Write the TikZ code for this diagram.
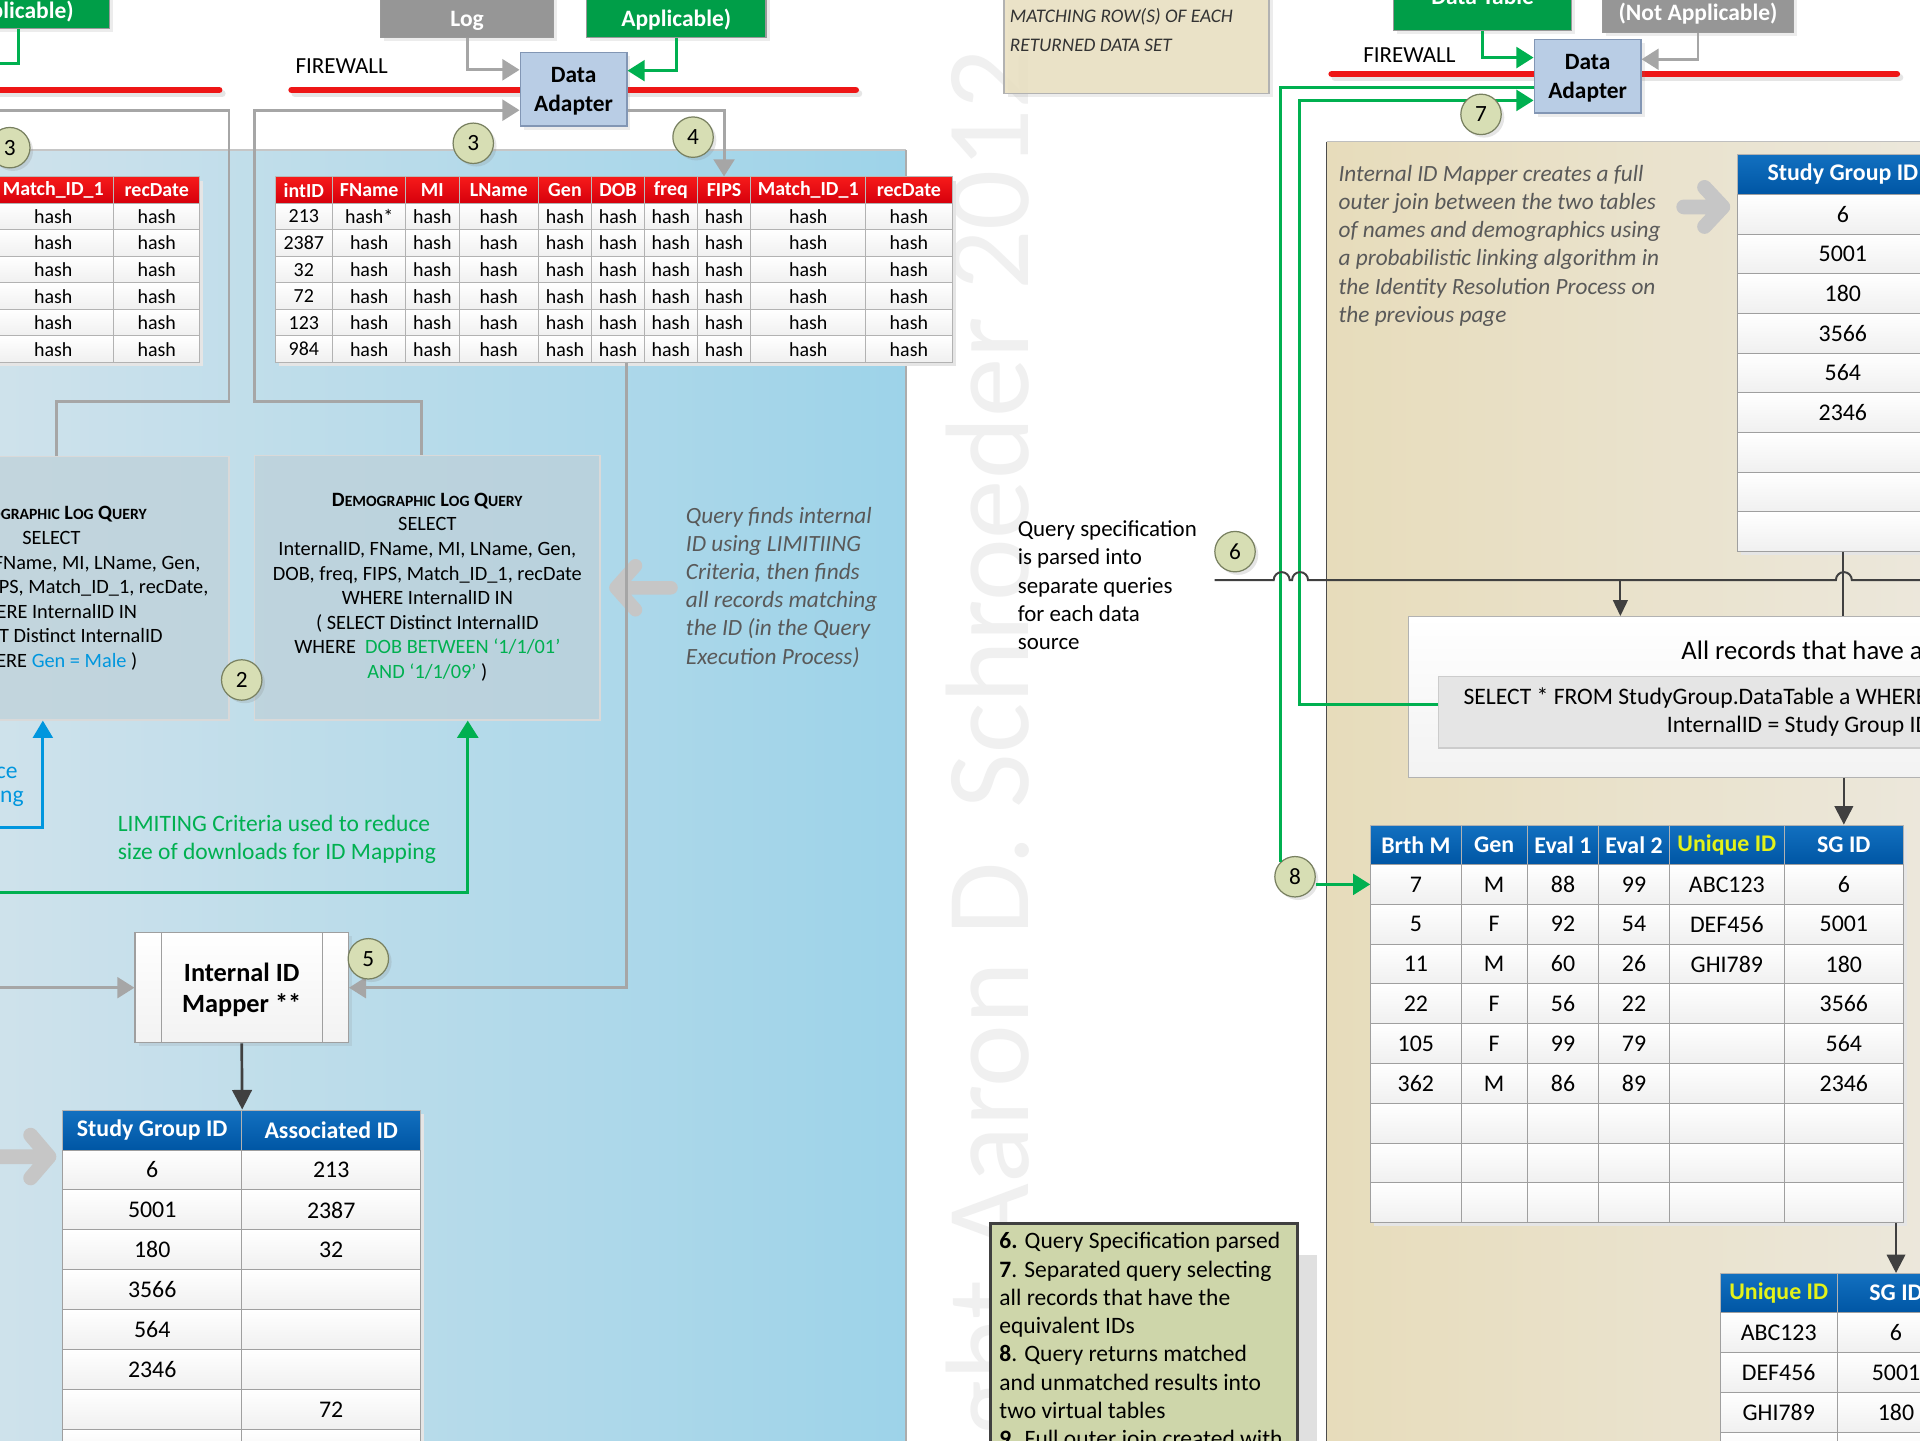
\documentclass[tikz,border=0pt]{standalone}
\usepackage{fontspec}
\setmainfont{Carlito}
\usetikzlibrary{arrows.meta,positioning,shadows}

\definecolor{fwred}{RGB}{238,22,22}
\definecolor{hdrredtop}{RGB}{246,26,26}
\definecolor{hdrredbot}{RGB}{214,0,12}
\definecolor{hdrbluetop}{RGB}{18,112,192}
\definecolor{hdrbluebot}{RGB}{0,86,164}
\definecolor{uidyellow}{RGB}{228,242,24}
\definecolor{srcgreen}{RGB}{0,158,72}
\definecolor{srcgray}{RGB}{150,150,150}
\definecolor{linegreen}{RGB}{0,176,80}
\definecolor{critblue}{RGB}{0,150,222}
\definecolor{linegray}{RGB}{166,166,166}
\definecolor{connline}{RGB}{64,64,64}
\definecolor{adapterblue}{RGB}{185,205,229}
\definecolor{adapteredge}{RGB}{130,150,180}
\definecolor{stepfill}{RGB}{215,222,180}
\definecolor{stepedge}{RGB}{120,128,96}
\definecolor{panelblueL}{RGB}{207,226,235}
\definecolor{panelblueR}{RGB}{157,211,233}
\definecolor{paneltanL}{RGB}{231,220,187}
\definecolor{paneltanR}{RGB}{236,232,221}
\definecolor{queryfill}{RGB}{190,208,216}
\definecolor{legendfill}{RGB}{206,214,170}
\definecolor{notetan}{RGB}{234,225,195}
\definecolor{notegray}{RGB}{89,89,89}

\newcommand\qtitle{\textbf{D{\fontsize{12.8}{20.1}\selectfont EMOGRAPHIC} L{\fontsize{12.8}{20.1}\selectfont OG} Q{\fontsize{12.8}{20.1}\selectfont UERY}}}

\tikzset{
  firewall/.style={fwred, line width=5.5pt, line cap=round},
  grayline/.style={linegray, line width=2.4pt},
  grayarrow/.style={grayline, -{Triangle[width=17pt,length=14pt]}},
  greenline/.style={linegreen, line width=2.4pt},
  greenarrow/.style={greenline, -{Triangle[width=17pt,length=14pt]}},
  bluearrow/.style={critblue, line width=2.4pt, -{Triangle[width=16pt,length=14pt]}},
  connector/.style={connline, line width=1.6pt},
  connarrow/.style={connector, -{Triangle[width=12pt,length=13pt]}},
  chevron/.style={gray!45, line width=12pt, line cap=round, line join=round},
  softshadow/.style={drop shadow={shadow xshift=3pt, shadow yshift=-3pt, opacity=0.15}},
  srcbox/.style={draw=black!40, line width=1pt, text=white, inner sep=0pt, text height=45pt, text depth=8.8pt, font=\fontsize{19.2}{23}\selectfont\bfseries, softshadow},
  adapter/.style={draw=adapteredge, fill=adapterblue, line width=1.2pt, align=center, inner sep=0pt, text depth=0pt, minimum width=87pt, minimum height=60pt, font=\fontsize{19.1}{23}\selectfont\bfseries, softshadow},
  stepnum/.style={circle, draw=stepedge, fill=stepfill, line width=1pt, minimum size=33pt, inner sep=0pt, font=\fontsize{19}{23}\selectfont, drop shadow={shadow xshift=2.5pt, shadow yshift=-2.5pt, opacity=0.2}},
  querybox/.style={draw=gray!30, line width=1pt, fill=queryfill, fill opacity=0.7, inner sep=0pt},
  mapperbox/.style={draw=gray!75, line width=1pt, top color=white, bottom color=gray!10, align=center, inner sep=0pt, text depth=0pt, minimum width=174.2pt, minimum height=89.8pt, font=\fontsize{21.5}{26}\selectfont\bfseries, softshadow},
  mapline/.style={gray!75, line width=1pt},
  redhead/.style={draw=gray!55, line width=0.8pt, top color=hdrredtop, bottom color=hdrredbot, text=white, inner sep=0pt, minimum height=21.5pt, font=\fontsize{16.3}{20}\selectfont\bfseries},
  redcell/.style={draw=gray!60, line width=0.8pt, top color=white, bottom color=gray!12, inner sep=0pt, minimum height=21.67pt, font=\fontsize{16.3}{20}\selectfont},
  bluehead/.style={draw=gray!60, line width=0.8pt, top color=hdrbluetop, bottom color=hdrbluebot, text=white, inner sep=0pt, minimum height=32.7pt, font=\fontsize{19.5}{23}\selectfont\bfseries},
  bluecell/.style={draw=gray!75, line width=0.8pt, top color=white, bottom color=gray!12, inner sep=0pt, minimum height=32.5pt, font=\fontsize{19.5}{23}\selectfont},
  allbox/.style={draw=gray!60, line width=1pt, top color=white, bottom color=gray!10, inner sep=0pt, minimum width=550pt, minimum height=131.5pt},
  sqlbox/.style={draw=gray!40, line width=1pt, fill=gray!20, inner sep=0pt, minimum width=525.4pt, minimum height=58.2pt},
  notebox/.style={draw=gray!60, line width=1pt, fill=notetan, fill opacity=0.9, inner sep=0pt, softshadow},
  legendbox/.style={draw=black!75, line width=2.4pt, fill=legendfill, inner sep=0pt},
  fwtxt/.style={inner sep=0pt, font=\fontsize{18.8}{22}\selectfont},
  plaintxt/.style={align=left, inner sep=0pt, font=\fontsize{18.7}{23}\selectfont},
  annot/.style={align=left, inner sep=0pt, text=notegray, font=\fontsize{19}{23}\selectfont\itshape},
  limtxt/.style={align=left, inner sep=0pt, text=linegreen, font=\fontsize{19.2}{23}\selectfont},
  crittxt/.style={inner sep=0pt, text=critblue, font=\fontsize{19.2}{23}\selectfont},
  querytxt/.style={align=center, inner sep=0pt, font=\fontsize{16.6}{20.1}\selectfont},
  matchtxt/.style={align=left, inner sep=0pt, text=black!80, font=\fontsize{15.7}{23.5}\selectfont\itshape},
  legendtxt/.style={align=left, inner sep=0pt, font=\fontsize{19.2}{23.1}\selectfont},
  alltxt/.style={inner sep=0pt, font=\fontsize{21.8}{26}\selectfont},
  sqltxt/.style={inner sep=0pt, font=\fontsize{19.3}{23}\selectfont},
  watermark/.style={inner sep=0pt, text=black!6, font=\fontsize{97}{100}\selectfont}
}

\begin{document}
\begin{tikzpicture}[x=1pt,y=-1pt]
\useasboundingbox (0,0) rectangle (1568,1176);
\clip (0,0) rectangle (1568,1176);
\fill[white] (0,0) rectangle (1568,1176);

\shade[left color=panelblueL, right color=panelblueR] (-10,122.5) rectangle (740,1190);
\draw[gray!45, line width=1pt] (-10,122.5) -- (740,122.5);
\draw[gray!65, line width=1.5pt] (740,122.5) -- (740,1190);
\shade[left color=paneltanL, right color=paneltanR] (1083.5,115.7) rectangle (1600,1190);
\draw[gray!50, line width=1pt] (1600,115.7) -- (1083.5,115.7);
\draw[black!70, line width=0.8pt] (1083.5,115.7) -- (1083.5,1190);

\node[watermark, rotate=90, anchor=base east] (wm) at (840,40) {Copyright Aaron D. Schroeder 2012};

\draw[firewall, black!10] (-10,76.5) -- (181.5,76.5) (240.8,76.5) -- (701.4,76.5) (1090.2,63.4) -- (1551.6,63.4);
\draw[firewall] (-10,73.5) -- (178.9,73.5);
\draw[firewall] (238.2,73.5) -- (698.8,73.5);
\draw[firewall] (1087.6,60.4) -- (1549,60.4);
\node[fwtxt] (fwl) at (279,54) {FIREWALL};
\node[fwtxt] (fwr) at (1151,44.9) {FIREWALL};

\node[srcbox, fill=srcgreen, minimum width=148pt, anchor=base, text depth=8.3pt] (gl) at (15.3,14.7) {Applicable)};
\node[srcbox, fill=srcgray, minimum width=141pt, anchor=base] (logbox) at (381.5,21.7) {Log};
\node[srcbox, fill=srcgreen, minimum width=146.6pt, anchor=base] (gm) at (552.3,21.7) {Applicable)};
\node[srcbox, fill=srcgreen, minimum width=145.5pt, anchor=base, text depth=21.7pt] (gr) at (1210.8,3.3) {Data Table};
\node[srcbox, fill=srcgray, minimum width=155.7pt, anchor=base, text depth=9.4pt] (na) at (1386.7,17) {(Not Applicable)};

\node[adapter] (da1) at (468.4,73) {Data\\Adapter};
\node[adapter] (da2) at (1296.5,62.4) {Data\\Adapter};

\coordinate (glout) at (-10,51.7);
\draw[greenline] (gl.south) |- (glout);
\draw[grayarrow] (logbox.south) |- ([yshift=16pt]da1.west);
\draw[greenarrow] (gm.south) |- ([yshift=15.3pt]da1.east);

\fill[black!10] (227.6,147.5) rectangle (780.5,299);
\fill[black!10] (-10,147.5) rectangle (166,299);
\foreach \xc/\w/\t [count=\cl] in {248.15/47.1/intID, 301.5/59.6/FName, 353.1/43.6/MI, 407.25/64.7/LName, 461.4/43.6/Gen, 504.7/43.0/DOB, 547.85/43.3/freq, 591.3/43.6/FIPS, 660.05/93.9/Match\_ID\_1, 742.25/70.5/recDate}
  \node[redhead, minimum width=\w pt] (mh-\cl) at (\xc,155.25) {\t};
\foreach \iv/\fnv [count=\rw] in {213/hash*, 2387/hash, 32/hash, 72/hash, 123/hash, 984/hash}{
  \pgfmathsetmacro\yc{166+(\rw-0.5)*21.67}
  \node[redcell, minimum width=47.1pt] (m-\rw-1) at (248.15,\yc) {\iv};
  \node[redcell, minimum width=59.6pt] (m-\rw-2) at (301.5,\yc) {\fnv};
  \foreach \xc/\w [count=\cl from 3] in {353.1/43.6, 407.25/64.7, 461.4/43.6, 504.7/43.0, 547.85/43.3, 591.3/43.6, 660.05/93.9, 742.25/70.5}
    \node[redcell, minimum width=\w pt] (m-\rw-\cl) at (\xc,\yc) {hash};
}
\node[redhead, minimum width=99pt] (lh-1) at (43.5,155.25) {Match\_ID\_1};
\node[redhead, minimum width=70pt] (lh-2) at (128,155.25) {recDate};
\foreach \rw in {1,...,6}{
  \pgfmathsetmacro\yc{166+(\rw-0.5)*21.67}
  \node[redcell, minimum width=99pt] (l-\rw-1) at (43.5,\yc) {hash};
  \node[redcell, minimum width=70pt] (l-\rw-2) at (128,\yc) {hash};
}
\draw[grayarrow] ([yshift=-17pt]da1.east) -| (mh-8.north);

\node[querybox, minimum width=197pt, minimum height=215pt] (qleft) at (88.5,480.5) {};
\node[querybox, minimum width=282pt, minimum height=216pt] (qmid) at (349,480) {};
\node[querytxt] (qlefttxt) at (42,480.5) {\qtitle\\SELECT\\InternalID, FName, MI, LName, Gen,\\DOB, freq, FIPS, Match\_ID\_1, recDate,\\WHERE InternalID IN\\( SELECT Distinct InternalID\\WHERE \textcolor{critblue}{Gen = Male} )};
\node[querytxt] (qmidtxt) at (349,479.5) {\qtitle\\SELECT\\InternalID, FName, MI, LName, Gen,\\DOB, freq, FIPS, Match\_ID\_1, recDate\\WHERE InternalID IN\\( SELECT Distinct InternalID\\WHERE\ \ \textcolor{linegreen}{DOB BETWEEN ‘1/1/01’}\\\textcolor{linegreen}{AND ‘1/1/09’} )};

\coordinate (glin) at (-10,90);
\draw[grayline] ([xshift=-42.5pt]qleft.north) |- (187,328) |- (glin);
\draw[grayarrow] ([xshift=-5pt]qmid.north) |- (208,328) |- ([yshift=-17pt]da1.west);

\coordinate (critin) at (-10,676);
\draw[bluearrow] (critin) -| ([xshift=-53.5pt]qleft.south);
\coordinate (limin) at (-10,729);
\draw[greenarrow] (limin) -| ([xshift=33pt]qmid.south);
\node[crittxt, anchor=east] (crit1) at (14.5,631.5) {ce};
\node[crittxt, anchor=east] (crit2) at (19.5,652) {ng};
\node[limtxt, anchor=west] (limtxt) at (96,685.5) {LIMITING Criteria used to reduce\\size of downloads for ID Mapping};

\draw[chevron, line width=11pt] (503,480) -- (548,480) (519,462) -- (503,480) -- (519,498);
\node[annot, anchor=west] (qfind) at (560,479.5) {Query finds internal\\ID using LIMITIING\\Criteria, then finds\\all records matching\\the ID (in the Query\\Execution Process)};

\node[mapperbox] (mapper) at (197.4,806.6) {Internal ID\\Mapper **};
\draw[mapline] ([xshift=22.3pt]mapper.north west) -- ([xshift=22.3pt]mapper.south west);
\draw[mapline] ([xshift=-21.8pt]mapper.north east) -- ([xshift=-21.8pt]mapper.south east);
\coordinate (mapin) at (-10,806.6);
\draw[grayarrow] (mapin) -- (mapper.west);
\draw[grayarrow] ([xshift=7.1pt]m-6-6.south) |- (mapper.east);

\fill[black!10] (54.2,909.5) rectangle (346.6,1200);
\node[bluehead, minimum width=146.2pt] (sgh-1) at (124.3,922.85) {Study Group ID};
\node[bluehead, minimum width=146.2pt] (sgh-2) at (270.5,922.85) {Associated ID};
\foreach \ta/\tb [count=\rw] in {6/213, 5001/2387, 180/32, 3566/{}, 564/{}, 2346/{}, {}/72, {}/123}{
  \pgfmathsetmacro\yc{939.2+(\rw-0.5)*32.6}
  \node[bluecell, minimum width=146.2pt, minimum height=32.6pt] (sg-\rw-1) at (124.3,\yc) {\ta};
  \node[bluecell, minimum width=146.2pt, minimum height=32.6pt] (sg-\rw-2) at (270.5,\yc) {\tb};
}
\draw[connarrow, line width=2.2pt, -{Triangle[width=16pt,length=16pt]}] (mapper.south) -- (sgh-1.north east);
\draw[chevron] (0,944.6) -- (40,944.6) (25,927) -- (40,944.6) -- (25,962);

\node[stepnum] (s3a) at (8,120.6) {3};
\node[stepnum] (s3b) at (386.5,117) {3};
\node[stepnum] (s4) at (566,112) {4};
\node[stepnum] (s2) at (197.4,555.3) {2};
\node[stepnum] (s5) at (300.8,783) {5};

\node[notebox, anchor=south west, minimum width=216.4pt, minimum height=110pt] (matchbox) at (819.4,77) {};
\node[matchtxt, anchor=west] (matchnote) at (824.6,24.5) {MATCHING ROW(S) OF EACH\\RETURNED DATA SET};

\node[annot, anchor=west] (mapnote) at (1093,200.75) {Internal ID Mapper creates a full\\outer join between the two tables\\of names and demographics using\\a probabilistic linking algorithm in\\the Identity Resolution Process on\\the previous page};
\draw[chevron] (1375,169) -- (1407,169) (1392,153) -- (1407,169) -- (1392,185);

\fill[black!10] (1422,129) rectangle (1600,453.5);
\node[bluehead, minimum width=172pt] (rsgh-1) at (1505,142.35) {Study Group ID};
\foreach \ta [count=\rw] in {6,5001,180,3566,564,2346,{},{},{}}{
  \pgfmathsetmacro\yc{158.7+(\rw-0.5)*32.4}
  \node[bluecell, minimum width=172pt, minimum height=32.4pt] (rsg-\rw) at (1505,\yc) {\ta};
}

\node[plaintxt, anchor=west] (qspec) at (831,478) {Query specification\\is parsed into\\separate queries\\for each data\\source};

\node[allbox] (allrec) at (1425,569.35) {};
\node[sqlbox] (selbox) at (1437.3,581.7) {};
\node[alltxt, anchor=west] (alltxt) at (1373,531) {All records that have a};
\node[sqltxt, anchor=west] (sql1) at (1195,570) {SELECT * FROM StudyGroup.DataTable a WHERE};
\node[sqltxt, anchor=west] (sql2) at (1361,593) {InternalID = Study Group ID};

\fill[black!10] (1122.4,676.8) rectangle (1557.4,1001.5);
\foreach \xc/\w/\t [count=\cl] in {1156.3/73.8/Brth M, 1220.25/54.1/Gen, 1276.45/58.3/Eval 1, 1334.45/57.7/Eval 2, 1410.25/93.9/\textcolor{uidyellow}{Unique ID}, 1505.8/97.2/SG ID}
  \node[bluehead, minimum width=\w pt, minimum height=32.2pt] (rbh-\cl) at (\xc,689.9) {\t};
\foreach \ta/\tb/\tc/\td/\te/\tf [count=\rw] in {7/M/88/99/ABC123/6, 5/F/92/54/DEF456/5001, 11/M/60/26/GHI789/180, 22/F/56/22/{}/3566, 105/F/99/79/{}/564, 362/M/86/89/{}/2346, {}/{}/{}/{}/{}/{}, {}/{}/{}/{}/{}/{}, {}/{}/{}/{}/{}/{}}{
  \pgfmathsetmacro\yc{706+(\rw-0.5)*32.5}
  \node[bluecell, minimum width=73.8pt] (rb-\rw-1) at (1156.3,\yc) {\ta};
  \node[bluecell, minimum width=54.1pt] (rb-\rw-2) at (1220.25,\yc) {\tb};
  \node[bluecell, minimum width=58.3pt] (rb-\rw-3) at (1276.45,\yc) {\tc};
  \node[bluecell, minimum width=57.7pt] (rb-\rw-4) at (1334.45,\yc) {\td};
  \node[bluecell, minimum width=93.9pt] (rb-\rw-5) at (1410.25,\yc) {\te};
  \node[bluecell, minimum width=97.2pt] (rb-\rw-6) at (1505.8,\yc) {\tf};
}

\fill[black!10] (1407.7,1043) rectangle (1600,1200);
\node[bluehead, minimum width=95.8pt, minimum height=32pt] (sbh-1) at (1452.6,1056) {\textcolor{uidyellow}{Unique ID}};
\node[bluehead, minimum width=95.8pt, minimum height=32pt] (sbh-2) at (1548.4,1056) {SG ID};
\foreach \ta/\tb [count=\rw] in {ABC123/6, DEF456/5001, GHI789/180, {}/{}}{
  \pgfmathsetmacro\yc{1072+(\rw-0.5)*32.7}
  \node[bluecell, minimum width=95.8pt, minimum height=32.7pt] (sb-\rw-1) at (1452.6,\yc) {\ta};
  \node[bluecell, minimum width=95.8pt, minimum height=32.7pt] (sb-\rw-2) at (1548.4,\yc) {\tb};
}

\node[stepnum] (s8) at (1057.6,716) {8};
\draw[greenline] ([yshift=-9.2pt]da2.west) -| (s8.north west);
\draw[greenarrow] ([yshift=6pt]selbox.west) -- ++(-112.9,0) |- ([yshift=-19.6pt]da2.west);
\draw[greenarrow] (gr.south) |- ([yshift=15.4pt]da2.west);
\draw[grayarrow] (na.south) |- ([yshift=14pt]da2.east);
\draw[greenarrow] (s8.east |- rb-1-1.west) -- (rb-1-1.west);

\coordinate (qsin) at (992,473.7);
\coordinate (qsplit) at (1323.3,473.7);
\draw[connector] (qsin) -- (1040.2,473.7) arc (180:360:6.5) -- (1055.2,473.7) arc (180:360:6.5) -- (1499.3,473.7) arc (180:360:6.5) -- (1600,473.7);
\draw[connarrow] (qsplit) -- (qsplit |- allrec.north);
\draw[connector] (rsg-9.south) -- (rsg-9.south |- allrec.north);
\draw[connarrow, line width=2pt, -{Triangle[width=15pt,length=15pt]}] (rbh-6.north |- allrec.south) -- (rbh-6.north);
\draw[connarrow, line width=2pt, -{Triangle[width=15pt,length=15pt]}] (rb-9-6.south -| sbh-2.north) -- (sbh-2.north);

\node[stepnum] (s6) at (1008.6,450.5) {6};
\node[stepnum] (s7) at (1209.5,93.4) {7};

\fill[black!12] (825,1025) rectangle (1075.4,1200);
\node[legendbox, anchor=north west, minimum width=250.4pt, minimum height=220pt] (legend) at (808,997.7) {};
\node[legendtxt, anchor=west] (legendtxt) at (816,1095.6) {\textbf{6.} Query Specification parsed\\\textbf{7}. Separated query selecting\\all records that have the\\equivalent IDs\\\textbf{8}. Query returns matched\\and unmatched results into\\two virtual tables\\\textbf{9.} Full outer join created with};
\end{tikzpicture}
\end{document}
